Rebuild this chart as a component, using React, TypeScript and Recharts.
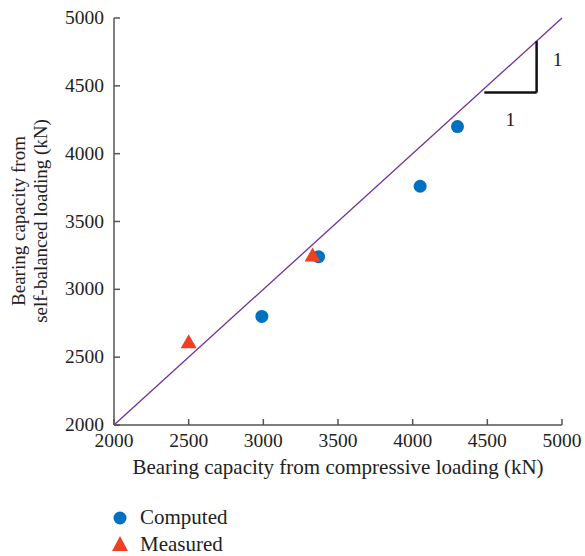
import { ScatterChart, Scatter, XAxis, YAxis, ReferenceLine, ReferenceDot } from 'recharts';

const computedX = [2990, 3370, 4050, 4300];
const computedY = [2800, 3240, 3760, 4200];
const measuredX = [2500, 3330];
const measuredY = [2610, 3250];
const axisTicks = [2000, 2500, 3000, 3500, 4000, 4500, 5000];
const diagonal = [2000, 5000];
// slope triangle corners: left, corner, top
const slopeX = [4480, 4830, 4830];
const slopeY = [4450, 4450, 4830];

const computed = computedX.map((x, i) => ({ x, y: computedY[i] }));
const measured = measuredX.map((x, i) => ({ x, y: measuredY[i] }));

const FONT = '"Liberation Serif", "DejaVu Serif", serif';
const AXIS = '#555555';
const BLUE = '#0070C0';
const RED = '#EE4123';

const YTick = ({ x, y, payload }: any) => (
  <g>
    <line x1={x} x2={x + 6} y1={y} y2={y} stroke={AXIS} strokeWidth={1.5} />
    <text x={x - 10} y={y} dy={6} textAnchor="end" fontFamily={FONT} fontSize={19.5} fill="#222">
      {payload.value}
    </text>
  </g>
);

const XTick = ({ x, y, payload }: any) => (
  <g>
    <line x1={x} x2={x} y1={y} y2={y - 6} stroke={AXIS} strokeWidth={1.5} />
    <text x={x} y={y} dy={22} textAnchor="middle" fontFamily={FONT} fontSize={19.5} fill="#222">
      {payload.value}
    </text>
  </g>
);

const Triangle = ({ cx, cy }: any) => (
  <polygon points={`${cx},${cy - 8} ${cx - 8},${cy + 6} ${cx + 8},${cy + 6}`} fill={RED} />
);

const Dot = ({ cx, cy }: any) => <circle cx={cx} cy={cy} r={6.5} fill={BLUE} />;

export default function App() {
  return (
    <div style={{ position: 'absolute', left: 0, top: 0, width: 585, height: 556, background: '#fff' }}>
      <ScatterChart width={585} height={556} margin={{ top: 18, right: 23, left: 0, bottom: 101 }}>
        <XAxis
          type="number"
          dataKey="x"
          domain={[2000, 5000]}
          ticks={axisTicks}
          tick={<XTick />}
          tickLine={false}
          tickSize={0}
          tickMargin={0}
          height={30}
          stroke={AXIS}
          strokeWidth={1.5}
          allowDataOverflow
        />
        <YAxis
          type="number"
          dataKey="y"
          domain={[2000, 5000]}
          ticks={axisTicks}
          tick={<YTick />}
          tickLine={false}
          tickSize={0}
          tickMargin={0}
          width={114}
          stroke={AXIS}
          strokeWidth={1.5}
          allowDataOverflow
        />
        <ReferenceLine
          segment={[{ x: diagonal[0], y: diagonal[0] }, { x: diagonal[1], y: diagonal[1] }]}
          stroke="#7030A0"
          strokeWidth={1.3}
        />
        <ReferenceLine
          segment={[{ x: slopeX[0], y: slopeY[0] }, { x: slopeX[1], y: slopeY[1] }]}
          stroke="#111"
          strokeWidth={2.5}
        />
        <ReferenceLine
          segment={[{ x: slopeX[1], y: slopeY[1] }, { x: slopeX[2], y: slopeY[2] }]}
          stroke="#111"
          strokeWidth={2.5}
        />
        <ReferenceDot
          x={(slopeX[0] + slopeX[1]) / 2}
          y={slopeY[0]}
          r={0}
          label={{ value: '1', position: 'center', dy: 26, fontFamily: FONT, fontSize: 19.5, fill: '#222' }}
        />
        <ReferenceDot
          x={slopeX[1]}
          y={(slopeY[1] + slopeY[2]) / 2}
          r={0}
          label={{ value: '1', position: 'center', dx: 21, dy: -8, fontFamily: FONT, fontSize: 19.5, fill: '#222' }}
        />
        <Scatter data={computed} fill={BLUE} shape={<Dot />} isAnimationActive={false} />
        <Scatter data={measured} fill={RED} shape={<Triangle />} isAnimationActive={false} />
        <text x={338} y={474} textAnchor="middle" fontFamily={FONT} fontSize={21} fill="#222">
          Bearing capacity from compressive loading (kN)
        </text>
        <text transform="translate(25,221) rotate(-90)" textAnchor="middle" fontFamily={FONT} fontSize={19} fill="#222">
          <tspan x={0} dy={0}>Bearing capacity from</tspan>
          <tspan x={0} dy={22}>self-balanced loading (kN)</tspan>
        </text>
        <circle cx={120} cy={518} r={6.5} fill={BLUE} />
        <text x={140} y={524} fontFamily={FONT} fontSize={21} fill="#222">Computed</text>
        <polygon points="120,536 112,551 128,551" fill={RED} />
        <text x={140} y={551} fontFamily={FONT} fontSize={21} fill="#222">Measured</text>
      </ScatterChart>
    </div>
  );
}
